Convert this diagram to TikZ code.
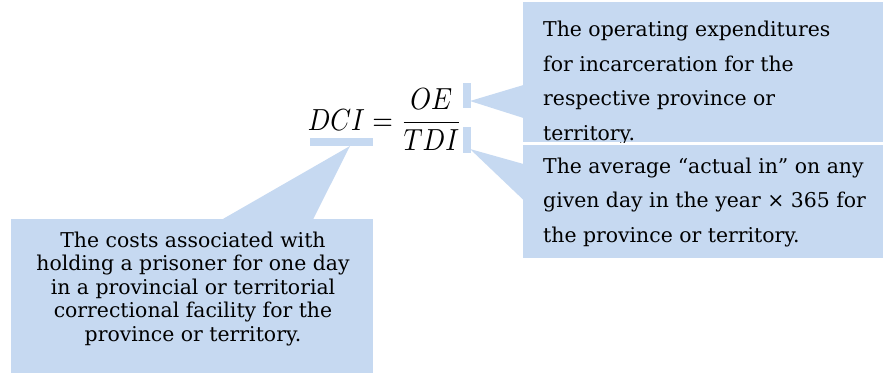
\documentclass[tikz,border=0pt]{standalone}
\usepackage{fontspec}
\setmainfont{DejaVu Serif}
\begin{document}
\begin{tikzpicture}[x=1pt,y=-1pt,
  callfill/.style={fill=calloutblue,draw=none},
  box/.style={callfill,rectangle,inner sep=0pt,anchor=north west},
  marker/.style={callfill,rectangle,inner sep=0pt,anchor=north west},
  note/.style={inner sep=0pt,anchor=base west,align=left,
    font=\fontsize{20.4}{34.5}\selectfont},
  cnote/.style={inner sep=0pt,anchor=base,align=center,
    font=\fontsize{20.4}{23.5}\selectfont}]
\definecolor{calloutblue}{RGB}{198,217,241}
\useasboundingbox (0,0) rectangle (884,373);

% callout boxes
\node[box,minimum width=360pt,minimum height=140pt] (oebox) at (523,2) {};
\node[box,minimum width=360pt,minimum height=113pt] (tdibox) at (523,145) {};
\node[box,minimum width=362pt,minimum height=154pt] (dcibox) at (11,219) {};

% markers beside the terms of the formula
\node[marker,minimum width=63pt,minimum height=8pt] (dcimark) at (310,138) {};
\node[marker,minimum width=8pt,minimum height=25pt] (oemark) at (463,83) {};
\node[marker,minimum width=8pt,minimum height=26pt] (tdimark) at (463,127) {};

% pointers from the markers into the boxes
\coordinate (dcitip) at (350,146);
\coordinate (oetip) at (470,101);
\coordinate (tditip) at (470,149);
\fill[calloutblue] (dcitip) -- (222,219.5) -- (313,219.5) -- cycle;
\fill[calloutblue] (oetip) -- (523.5,85) -- (523.5,118) -- cycle;
\fill[calloutblue] (tditip) -- (523.5,164) -- (523.5,200) -- cycle;

% formula
\node[inner sep=0pt,anchor=base] (formula) at (385,130)
  {\scalebox{2.65}[3.05]{$\displaystyle DCI=\frac{OE}{TDI}$}};

% explanations (the anchor is the baseline of the last line)
\begin{scope}
\clip (oebox.north west) rectangle (oebox.south east);
\node[note] (oetext) at (543,140)
  {The operating expenditures\\for incarceration for the\\respective province or\\territory.};
\end{scope}
\node[note] (tditext) at (543,242)
  {The average “actual in” on any\\given day in the year × 365 for\\the province or territory.};
\node[cnote] (dcitext) at (193,341)
  {The costs associated with\\holding a prisoner for one day\\in a provincial or territorial\\correctional facility for the\\province or territory.};
\end{tikzpicture}
\end{document}
